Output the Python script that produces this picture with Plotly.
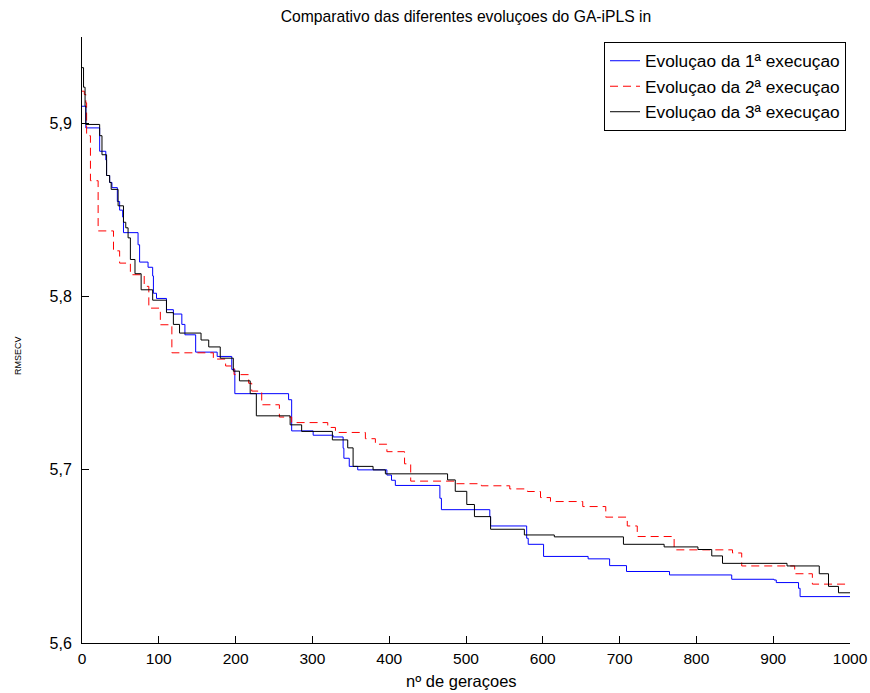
import plotly.graph_objects as go

# Series 1 (blue, solid) - step breakpoints (generation, value)
gen_1 = [0, 5, 23, 31, 32, 36, 39, 46, 49, 53, 54, 73, 75, 86, 92, 93, 97, 110, 119, 130, 134, 148,
         176, 195, 199, 269, 273, 301, 327, 340, 341, 348, 359, 397, 403, 408, 466, 468, 531, 532,
         579, 581, 601, 659, 687, 709, 765, 846, 901, 904, 933, 935, 1000]
val_1 = [5.910, 5.8975, 5.884, 5.879, 5.870, 5.866, 5.863, 5.855, 5.850, 5.846, 5.837, 5.830, 5.820,
         5.817, 5.812, 5.802, 5.799, 5.7925, 5.790, 5.784, 5.778, 5.768, 5.7655, 5.758, 5.744, 5.7405,
         5.7225, 5.720, 5.719, 5.7125, 5.7067, 5.702, 5.700, 5.697, 5.694, 5.691, 5.6836, 5.677, 5.673,
         5.6676, 5.6605, 5.657, 5.650, 5.6486, 5.6447, 5.6413, 5.6393, 5.6368, 5.6364, 5.6349, 5.6316,
         5.6268, 5.6268]

# Series 2 (red, dashed)
gen_2 = [0, 3, 5, 6, 11, 21, 41, 49, 63, 81, 87, 102, 117, 171, 187, 198, 217, 221, 234, 257, 273,
         320, 330, 369, 382, 397, 420, 428, 486, 520, 557, 580, 597, 610, 652, 682, 710, 723, 771,
         847, 859, 928, 951, 1000]
val_2 = [5.9187, 5.9168, 5.912, 5.893, 5.867, 5.838, 5.8265, 5.8194, 5.8127, 5.806, 5.7934, 5.7838,
         5.7676, 5.764, 5.760, 5.755, 5.750, 5.7455, 5.7376, 5.7305, 5.7273, 5.7245, 5.7216, 5.718,
         5.7148, 5.7105, 5.7035, 5.6935, 5.692, 5.6908, 5.689, 5.6875, 5.684, 5.6817, 5.6788, 5.6727,
         5.6676, 5.6615, 5.6538, 5.652, 5.6445, 5.640, 5.634, 5.634]

# Series 3 (black, solid)
gen_3 = [0, 2, 4, 5, 23, 26, 32, 36, 38, 47, 54, 57, 60, 63, 69, 77, 92, 110, 119, 127, 155, 165,
         180, 197, 205, 219, 227, 271, 286, 326, 346, 353, 379, 395, 476, 486, 501, 511, 532, 576,
         615, 705, 758, 802, 820, 834, 918, 960, 972, 985, 1000]
val_3 = [5.9323, 5.921, 5.910, 5.8995, 5.893, 5.882, 5.870, 5.866, 5.862, 5.8525, 5.843, 5.8398,
         5.834, 5.8215, 5.8133, 5.804, 5.798, 5.7908, 5.784, 5.779, 5.775, 5.771, 5.7645, 5.757,
         5.7514, 5.744, 5.7312, 5.726, 5.7222, 5.7173, 5.7127, 5.702, 5.700, 5.6977, 5.6942, 5.6876,
         5.680, 5.673, 5.6657, 5.6624, 5.6613, 5.657, 5.6555, 5.654, 5.6503, 5.646, 5.6445, 5.640,
         5.6327, 5.629, 5.629]

names = ["Evoluçao da 1ª execuçao", "Evoluçao da 2ª execuçao", "Evoluçao da 3ª execuçao"]

x_ticks = [0, 100, 200, 300, 400, 500, 600, 700, 800, 900, 1000]
y_ticks = [5.6, 5.7, 5.8, 5.9]
y_tick_text = ["5,6", "5,7", "5,8", "5,9"]

FONT = "Liberation Sans, Arial, sans-serif"

fig = go.Figure()
fig.add_trace(go.Scatter(x=gen_1, y=val_1, mode="lines", name=names[0],
                         line=dict(color="#0000FF", width=1, shape="hv")))
fig.add_trace(go.Scatter(x=gen_2, y=val_2, mode="lines", name=names[1],
                         line=dict(color="#FF0000", width=1, shape="hv", dash="8px,5px")))
fig.add_trace(go.Scatter(x=gen_3, y=val_3, mode="lines", name=names[2],
                         line=dict(color="#000000", width=1, shape="hv")))

fig.update_layout(
    width=870, height=693,
    margin=dict(l=82, r=20, t=37, b=50, autoexpand=False),
    paper_bgcolor="white", plot_bgcolor="white",
    font=dict(family=FONT, size=15, color="black"),
    title=dict(text="Comparativo das diferentes evoluçoes do GA-iPLS in",
               x=0.5, xref="paper", xanchor="center",
               y=1 - 17 / 693, yref="container", yanchor="middle",
               font=dict(size=15.7, family=FONT, color="black")),
    showlegend=True,
    legend=dict(x=(846 - 82) / 768, xanchor="right", y=(643 - 42) / 606, yanchor="top",
                bordercolor="black", borderwidth=1, bgcolor="white",
                font=dict(size=17.3, family=FONT), tracegroupgap=0,
                itemwidth=30),
    annotations=[
        dict(text="nº de geraçoes", x=(461 - 82) / 768, xref="paper", y=(643 - 681) / 606,
             yref="paper", xanchor="center", yanchor="middle", showarrow=False,
             font=dict(size=16.5, family=FONT)),
        dict(text="RMSECV", x=-(82 - 18) / 768, xref="paper", xanchor="center",
             y=(643 - 356) / 606, yref="paper", yanchor="middle", showarrow=False,
             textangle=-90, font=dict(size=9, family=FONT)),
    ],
)

fig.update_xaxes(range=[0, 1000], tickvals=x_ticks, ticks="inside", ticklen=7,
                 tickcolor="black", showline=True, linecolor="black", linewidth=1,
                 showgrid=False, zeroline=False, mirror=False, automargin=False,
                 tickfont=dict(size=15.5, family=FONT), ticklabelstandoff=1)
fig.update_yaxes(range=[5.6, 5.95], tickvals=y_ticks, ticktext=y_tick_text, ticks="inside",
                 ticklen=7, tickcolor="black", showline=True, linecolor="black", linewidth=1,
                 showgrid=False, zeroline=False, mirror=False, automargin=False,
                 tickfont=dict(size=16, family=FONT), ticklabelstandoff=6)

fig.write_html("out.html")
